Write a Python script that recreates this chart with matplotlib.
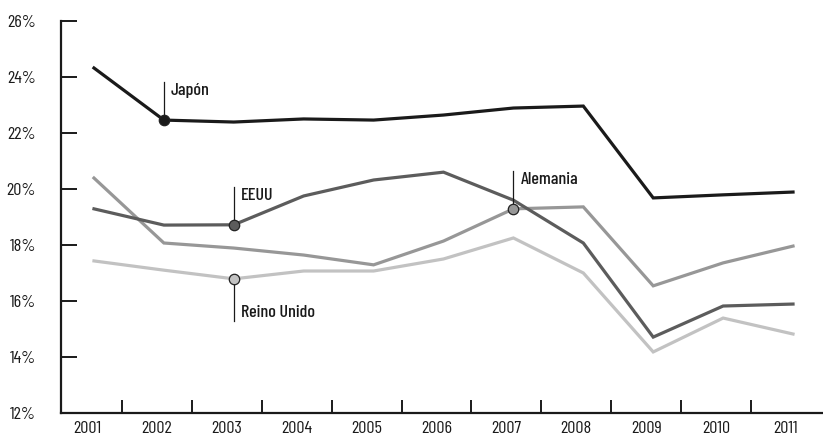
import matplotlib.pyplot as plt

# datos (% del PIB)
anios = [2001, 2002, 2003, 2004, 2005, 2006, 2007, 2008, 2009, 2010, 2011]
japon = [24.32, 22.46, 22.39, 22.50, 22.46, 22.64, 22.89, 22.96, 19.68, 19.79, 19.89]
eeuu = [19.29, 18.71, 18.72, 19.75, 20.32, 20.60, 19.60, 18.07, 14.71, 15.82, 15.89]
alemania = [20.39, 18.07, 17.89, 17.64, 17.29, 18.14, 19.29, 19.36, 16.54, 17.36, 17.96]
reino_unido = [17.43, 17.10, 16.79, 17.07, 17.07, 17.50, 18.25, 17.00, 14.18, 15.39, 14.82]
y_ticks = [12, 14, 16, 18, 20, 22, 24, 26]

plt.rcParams['font.family'] = ['Barlow Condensed', 'DejaVu Sans']

fig = plt.figure(figsize=(8.23, 4.4), dpi=100)
ax = fig.add_axes([0.0741, 0.0614, 0.926, 0.891])

series = [
    ('Reino Unido', reino_unido, '#c2c2c2', 2003, 'down'),
    ('Alemania', alemania, '#979797', 2007, 'up'),
    ('EEUU', eeuu, '#5c5c5c', 2003, 'up'),
    ('Japón', japon, '#1a1a1a', 2002, 'up'),
]

for nombre, valores, color, anio_marca, lado in series:
    ax.plot(anios, valores, color=color, linewidth=2.3, solid_joinstyle='miter', zorder=2)
    v = valores[anios.index(anio_marca)]
    if lado == 'up':
        ax.plot([anio_marca, anio_marca], [v, v + 1.35], color='#1a1a1a', linewidth=0.9, zorder=3)
        ax.text(anio_marca + 0.1, v + 1.05, nombre, fontsize=13, fontweight='medium',
                color='#1a1a1a', va='center', ha='left')
    else:
        ax.plot([anio_marca, anio_marca], [v, v - 1.5], color='#1a1a1a', linewidth=0.9, zorder=3)
        ax.text(anio_marca + 0.1, v - 1.2, nombre, fontsize=13, fontweight='medium',
                color='#1a1a1a', va='center', ha='left')
    ax.plot(anio_marca, v, 'o', markersize=7.5, color=color, markeredgecolor='#222222',
            markeredgewidth=0.9, zorder=4)

ax.set_xlim(2000.528, 2011.43)
ax.set_ylim(12, 26)

ax.spines['top'].set_visible(False)
ax.spines['right'].set_visible(False)
ax.spines['left'].set_linewidth(1.6)
ax.spines['bottom'].set_linewidth(1.6)
ax.spines['left'].set_color('#1a1a1a')
ax.spines['bottom'].set_color('#1a1a1a')

ax.set_yticks(y_ticks, [f'{t}%' for t in y_ticks])
ax.tick_params(axis='y', direction='in', length=11.5, width=1.4, pad=18,
               labelsize=13, colors='#1a1a1a')

# marcas entre años y etiquetas de año
ax.set_xticks([a + 0.4 for a in anios[:-1]], [''] * (len(anios) - 1))
ax.set_xticks([a - 0.1 for a in anios], [str(a) for a in anios], minor=True)
ax.tick_params(axis='x', which='major', direction='in', length=9.5, width=1.4, colors='#1a1a1a')
ax.tick_params(axis='x', which='minor', length=0, pad=6, labelsize=13, labelcolor='#1a1a1a')

fig.savefig('out.png', dpi=100)
